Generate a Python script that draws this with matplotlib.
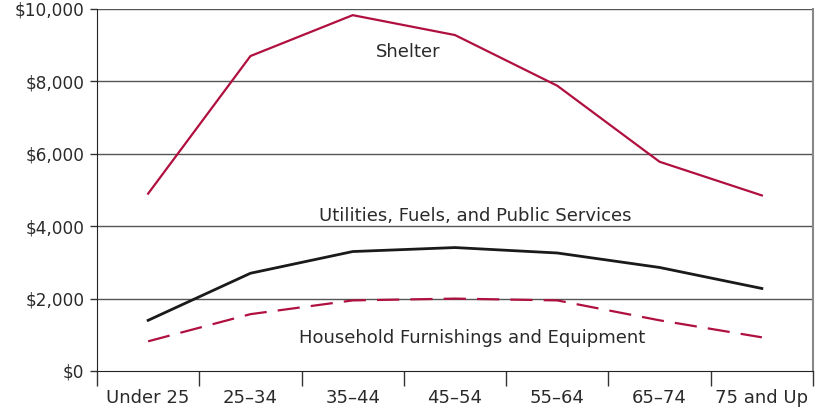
import matplotlib
matplotlib.use("Agg")
import matplotlib.pyplot as plt

categories = ["Under 25", "25\u201334", "35\u201344", "45\u201354", "55\u201364", "65\u201374", "75 and Up"]
shelter = [4900, 8700, 9830, 9280, 7880, 5780, 4850]
utilities = [1400, 2700, 3300, 3410, 3260, 2860, 2280]
furnishings = [820, 1570, 1950, 2000, 1950, 1400, 930]
yticks = [0, 2000, 4000, 6000, 8000, 10000]
ytick_labels = ["$0", "$2,000", "$4,000", "$6,000", "$8,000", "$10,000"]

plt.rcParams['font.family'] = ['DejaVu Sans']
crimson = "#B0103F"
txt = "#2a2a2a"

fig = plt.figure(figsize=(8.3, 4.13), dpi=100)
ax = fig.add_axes([97/830, 1-371/413, (813-97)/830, (371-9)/413])

x = list(range(len(categories)))
ax.plot(x, shelter, color=crimson, lw=1.6)
ax.plot(x, utilities, color="#1a1a1a", lw=2.0)
ax.plot(x, furnishings, color=crimson, lw=1.6, dashes=(10, 5))

ax.set_xlim(-0.5, len(categories) - 0.5)
ax.set_ylim(0, 10000)
ax.set_yticks(yticks)
ax.set_yticklabels(ytick_labels, fontsize=12.2, color=txt)
ax.set_xticks(x)
ax.set_xticklabels(categories, fontsize=13, color=txt)
ax.tick_params(axis='x', length=0, pad=13)
ax.set_xticks([i - 0.5 for i in range(len(categories) + 1)], minor=True)
ax.tick_params(axis='x', which='minor', length=11, width=1, color="#333333")
ax.tick_params(axis='y', length=5, width=1, color="#333333", pad=4)

for y in yticks[1:]:
    ax.axhline(y, color="#555555", lw=1, zorder=0)

ax.spines["top"].set_visible(False)
ax.spines["left"].set_color("#222222")
ax.spines["bottom"].set_color("#222222")
ax.spines["right"].set_color("#888888")
ax.spines["right"].set_linewidth(1.5)

ax.text(2.54, 8812, "Shelter", fontsize=13, color=txt, ha="center", va="center")
ax.text(3.195, 4282, "Utilities, Fuels, and Public Services", fontsize=13, color=txt, ha="center", va="center")
ax.text(3.166, 912, "Household Furnishings and Equipment", fontsize=13, color=txt, ha="center", va="center")

fig.savefig("out.png", dpi=100)
